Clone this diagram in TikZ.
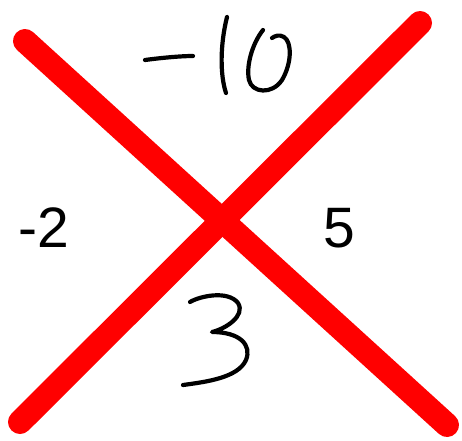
\documentclass[tikz,border=0pt]{standalone}
\usepackage{fontspec}
\setmainfont{Liberation Sans}
\begin{document}
\begin{tikzpicture}[x=1pt,y=-1pt,
  redstroke/.style={draw={rgb,255:red,255;green,0;blue,0}, line width=24pt, line cap=round},
  pen/.style={draw=black, line width=4.2pt, line cap=round, line join=round},
  num/.style={font=\fontsize{57}{60}\selectfont, inner sep=0pt, anchor=base}]
\useasboundingbox (0,0) rectangle (462,440);
\coordinate (a1) at (25,41);
\coordinate (a2) at (447,425);
\coordinate (b1) at (420,23);
\coordinate (b2) at (20,422);
\draw[redstroke] (a1) -- (a2);
\draw[redstroke] (b1) -- (b2);
% handwritten -10
\draw[pen] (145,60) .. controls (160,58) and (180,56) .. (193,56);
\draw[pen] (227,17) .. controls (220,45) and (220,75) .. (226,93);
\draw[pen] (263,30) .. controls (252,44) and (246,66) .. (249,80)
  .. controls (252,93) and (272,95) .. (282,80)
  .. controls (292,63) and (292,42) .. (284,37)
  .. controls (279,34) and (275,36) .. (272,38);
% handwritten 3
\draw[pen] (190,302) .. controls (200,296) and (228,290) .. (238,303)
  .. controls (246,316) and (225,329) .. (212,332)
  .. controls (240,332) and (252,345) .. (246,360)
  .. controls (238,378) and (205,382) .. (183,385);
\node[num] (left) at (44,247) {-2};
\node[num] (right) at (339.5,247) {5};
\end{tikzpicture}
\end{document}
